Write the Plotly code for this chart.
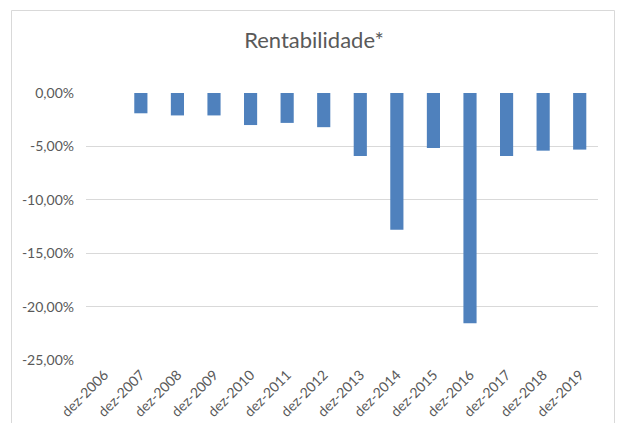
import plotly.graph_objects as go

categories = ["dez-2006", "dez-2007", "dez-2008", "dez-2009", "dez-2010", "dez-2011",
              "dez-2012", "dez-2013", "dez-2014", "dez-2015", "dez-2016", "dez-2017",
              "dez-2018", "dez-2019"]
rentabilidade = [0.0, -1.9, -2.1, -2.1, -3.0, -2.8, -3.2, -5.9, -12.8, -5.15, -21.55, -5.9, -5.4, -5.3]

y_tickvals = [0, -5, -10, -15, -20, -25]
y_ticktext = ["0,00%", "-5,00%", "-10,00%", "-15,00%", "-20,00%", "-25,00%"]

W, H = 617, 423
L, R, T, B = 86, 19, 93, 63
pw, ph = W - L - R, H - T - B

fig = go.Figure(go.Bar(x=categories, y=rentabilidade, marker_color="#4f81bd",
                       marker_line_width=0))

def px(x):
    return (x - L) / pw

def py(y):
    return (H - B - y) / ph

fig.update_layout(
    width=W, height=H,
    margin=dict(l=L, r=R, t=T, b=B, autoexpand=False),
    paper_bgcolor="white", plot_bgcolor="white",
    bargap=0.64,
    showlegend=False,
    font=dict(family="Lato, Open Sans, sans-serif", color="#595959", size=14),
    title=dict(text="Rentabilidade*", x=(314) / W, xanchor="center",
               y=1 - 40 / H, yanchor="middle",
               font=dict(size=22, color="#595959", family="Lato, Open Sans, sans-serif")),
    xaxis=dict(tickangle=-45, showgrid=False, showline=False, ticks="",
               automargin=False, ticklabelstandoff=3,
               tickfont=dict(size=14, color="#595959")),
    yaxis=dict(range=[-25, 0], tickvals=y_tickvals, ticktext=y_ticktext,
               showgrid=True, gridcolor="#d9d9d9", gridwidth=1,
               zeroline=False, showline=False, ticks="", automargin=False,
               ticklabelstandoff=11,
               tickfont=dict(size=14, color="#595959")),
    shapes=[dict(type="rect", xref="paper", yref="paper",
                 x0=px(11.5), x1=px(614.5), y0=py(440), y1=py(10.5),
                 line=dict(color="#d9d9d9", width=1), fillcolor="rgba(0,0,0,0)",
                 layer="below")],
)

fig.write_html("out.html", config={"displayModeBar": False},
               post_script="document.body.style.margin='0';document.body.style.overflow='hidden';")
